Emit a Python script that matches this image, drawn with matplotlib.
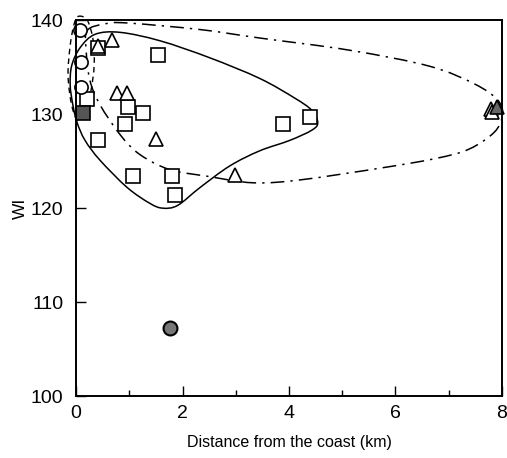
import numpy as np
import matplotlib
matplotlib.use("Agg")
from matplotlib import pyplot as plt
from matplotlib.path import Path
from matplotlib.patches import PathPatch

plt.rcParams['font.family'] = ['Liberation Sans', 'DejaVu Sans']

# open circles
circle_x = [0.08, 0.09, 0.09]
circle_y = [138.9, 135.5, 132.9]

# open squares
square_x = [0.41, 1.54, 0.21, 0.98, 1.26, 0.92, 0.41, 1.07, 1.80, 1.86, 3.88, 4.39]
square_y = [137.0, 136.3, 131.6, 130.8, 130.1, 128.9, 127.3, 123.4, 123.4, 121.4, 129.0, 129.7]

# open triangles
tri_x = [0.41, 0.68, 0.77, 0.96, 1.50, 2.98, 7.79, 7.82]
tri_y = [137.3, 137.9, 132.2, 132.2, 127.4, 123.5, 130.6, 130.2]

# filled markers
fsquare_x, fsquare_y = [0.13], [130.1]
ftri_x, ftri_y = [7.90], [130.8]
fcircle_x, fcircle_y = [1.76], [107.3]

# hand drawn group outlines (km, WI)
solid_x = [0.02, 0.17, 0.45, 0.96, 1.39, 1.63, 1.91, 2.33, 2.89, 3.45, 4.01, 4.43, 4.54, 4.43, 4.11, 3.45, 2.51, 1.58, 0.83, 0.36, 0.08, -0.08, -0.11, -0.06]
solid_y = [129.1, 127.2, 125.1, 122.2, 120.5, 120.0, 120.3, 122.2, 124.5, 126.1, 127.2, 128.3, 129.1, 130.4, 131.7, 133.8, 136.0, 137.8, 138.7, 138.5, 137.1, 135.2, 133.1, 131.0]

dashdot_x = [0.21, 0.54, 0.96, 2.33, 3.45, 5.14, 6.64, 7.49, 7.92, 8.01, 7.86, 7.39, 6.77, 5.76, 4.20, 3.32, 2.46, 1.76, 1.20, 0.83, 0.45, 0.26, 0.19]
dashdot_y = [138.9, 139.6, 139.7, 139.0, 138.1, 136.8, 135.1, 133.2, 131.5, 129.9, 128.1, 126.3, 125.3, 124.3, 123.0, 122.7, 123.4, 124.1, 125.7, 127.8, 131.0, 133.6, 136.8]

dashed_x = [0.04, 0.21, 0.32, 0.34, 0.28, 0.17, 0.04, -0.08, -0.15, -0.11, -0.04]
dashed_y = [140.4, 140.0, 137.9, 135.2, 132.5, 130.2, 129.3, 130.9, 134.1, 137.3, 139.5]


def closed_curve(xs, ys):
  # smooth closed Catmull-Rom outline written as cubic Bezier segments
  p = np.column_stack([xs, ys])
  n = len(p)
  verts = [p[0]]
  codes = [Path.MOVETO]
  for i in range(n):
    p0, p1, p2, p3 = p[i - 1], p[i], p[(i + 1) % n], p[(i + 2) % n]
    verts += [p1 + (p2 - p0) / 6, p2 - (p3 - p1) / 6, p2]
    codes += [Path.CURVE4] * 3
  return Path(verts, codes)


def main():
  fig = plt.figure(figsize=(5.07, 4.58), dpi=100)
  ax = fig.add_axes([0.150, 0.135, 0.840, 0.821])

  ###################
  ## Outlines
  ###################
  ax.add_patch(PathPatch(closed_curve(solid_x, solid_y), fill=False, lw=1.1, ec='black', clip_on=False))
  ax.add_patch(PathPatch(closed_curve(dashdot_x, dashdot_y), fill=False, lw=1.1, ec='black',
                         linestyle=(0, (9, 4, 1.5, 4)), clip_on=False))
  ax.add_patch(PathPatch(closed_curve(dashed_x, dashed_y), fill=False, lw=1.0, ec='black',
                         linestyle=(0, (4, 3)), clip_on=False))

  ###################
  ## Markers
  ###################
  kw = dict(linestyle='none', mfc='white', mec='black', mew=1.2, clip_on=False)
  ax.plot(square_x, square_y, marker='s', ms=10.5, **kw)
  ax.plot(tri_x, tri_y, marker='^', ms=10, **kw)
  ax.plot(circle_x, circle_y, marker='o', ms=9.5, **kw)
  ax.plot(fsquare_x, fsquare_y, marker='s', ms=10.5, linestyle='none', mfc='#555555', mec='black', mew=1.2)
  ax.plot(ftri_x, ftri_y, marker='^', ms=10, linestyle='none', mfc='#666666', mec='black', mew=1.2, clip_on=False)
  ax.plot(fcircle_x, fcircle_y, marker='o', ms=10, linestyle='none', mfc='#777777', mec='black', mew=1.5)

  ###################
  ## Axes
  ###################
  ax.set_xlim(0, 8)
  ax.set_ylim(100, 140)
  ax.set_xticks([0, 2, 4, 6, 8])
  ax.set_xticks([1, 3, 5, 7], minor=True)
  ax.set_yticks([100, 110, 120, 130, 140])
  ax.tick_params(which='major', direction='in', length=7, width=1.0, labelsize=14)
  ax.tick_params(axis='y', which='major', pad=9)
  ax.tick_params(axis='x', which='major', pad=6)
  ax.tick_params(which='minor', direction='in', length=4, width=1.0)
  for s in ax.spines.values():
    s.set_linewidth(1.4)

  ax.set_xlabel("Distance from the coast (km)", fontsize=11.5, labelpad=10)
  ax.set_ylabel("WI", fontsize=12.5)
  ax.yaxis.set_label_coords(-0.113, 0.5)

  fig.savefig("out.png", dpi=100)
  plt.close(fig)


if __name__ == "__main__":
  main()
